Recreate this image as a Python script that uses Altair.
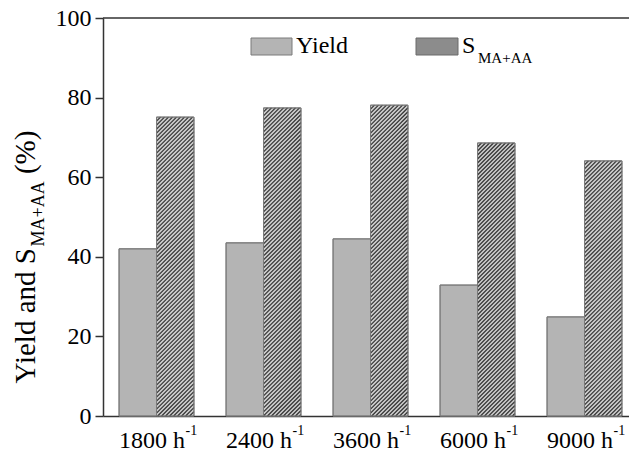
import altair as alt
import pandas as pd

# ---------------- data ----------------
categories = ["1800", "2400", "3600", "6000", "9000"]
yield_vals = [42.0, 43.5, 44.5, 32.9, 24.9]
s_vals = [75.1, 77.4, 78.1, 68.6, 64.1]
y_ticks = [0, 20, 40, 60, 80, 100]

# ---------------- layout ----------------
PLOT_W = 526          # visible plot width
X_RANGE = 535         # pixel range of the 5 groups (runs past the window edge)
H = 398
LEFT, TOP = 103, 18
px_per_x = X_RANGE / len(categories)
px_per_y = H / 100.0
FONT = "Liberation Serif"
AXIS_COLOR = "#333333"

bars = []
for i, (c, yv, sv) in enumerate(zip(categories, yield_vals, s_vals)):
    bars.append(dict(cat=c, series="Yield", x0=i + 0.15, x1=i + 0.5, v=yv))
    bars.append(dict(cat=c, series="S", x0=i + 0.5, x1=i + 0.85, v=sv))
bars_df = pd.DataFrame(bars)

# hatch lines for the S bars (derived from the bar values)
hatch = []
spacing = 4.0
w_px = 0.35 * px_per_x
for i, sv in enumerate(s_vals):
    h_px = sv * px_per_y
    k = -h_px
    while k < w_px:
        xs = max(0.0, k)
        xe = min(w_px, h_px + k)
        if xe > xs:
            hatch.append(dict(xa=i + 0.5 + xs / px_per_x, ya=(xs - k) / px_per_y,
                              xb=i + 0.5 + xe / px_per_x, yb=(xe - k) / px_per_y))
        k += spacing
hatch_df = pd.DataFrame(hatch)

label_df = pd.DataFrame(dict(pos=[i + 0.5 for i in range(len(categories))]))
one = pd.DataFrame(dict(a=[0]))

x_scale = alt.Scale(domain=[0, len(categories)], range=[0, X_RANGE], nice=False, zero=False)
y_scale = alt.Scale(domain=[0, 100], nice=False)

label_list = "[" + ",".join("'%s h'" % c for c in categories) + "]"

base = alt.Chart(bars_df)

bar_fill = base.mark_rect(stroke="#808080", strokeWidth=1).encode(
    x=alt.X("x0:Q", scale=x_scale, title=None,
            axis=alt.Axis(values=[i + 0.5 for i in range(len(categories))],
                          labelExpr=label_list + "[floor(datum.value)]",
                          tickSize=0, grid=False, domainColor=AXIS_COLOR, domainWidth=1.5,
                          labelFont=FONT, labelFontSize=24, labelColor="black",
                          labelPadding=12, labelOffset=-5)),
    x2="x1:Q",
    y=alt.Y("v:Q", scale=y_scale, title=None,
            axis=alt.Axis(values=y_ticks, tickSize=8, tickColor=AXIS_COLOR, tickWidth=1.5,
                          grid=False, domainColor=AXIS_COLOR, domainWidth=1.5,
                          labelFont=FONT, labelFontSize=24, labelColor="black",
                          labelPadding=4)),
    y2=alt.Y2(datum=0),
    color=alt.Color("series:N", scale=alt.Scale(domain=["Yield", "S"],
                                                range=["#b4b4b4", "#cfcfcf"]), legend=None),
)

hatch_layer = alt.Chart(hatch_df).mark_rule(color="#333333", strokeWidth=1.2).encode(
    x=alt.X("xa:Q", scale=x_scale, title=None),
    y=alt.Y("ya:Q", scale=y_scale, title=None),
    x2="xb:Q",
    y2="yb:Q",
)

bar_outline = base.mark_rect(fillOpacity=0, stroke="#7a7a7a", strokeWidth=1).encode(
    x=alt.X("x0:Q", scale=x_scale, title=None),
    x2="x1:Q",
    y=alt.Y("v:Q", scale=y_scale, title=None),
    y2=alt.Y2(datum=0),
)

top_line = alt.Chart(one).mark_rule(color=AXIS_COLOR, strokeWidth=1.5).encode(
    y=alt.Y(datum=100, scale=y_scale, title=None),
    x=alt.value(0),
    x2=alt.value(X_RANGE),
)

sup = alt.Chart(label_df).mark_text(font=FONT, fontSize=14, align="left",
                                    baseline="alphabetic", dx=29, color="black").encode(
    x=alt.X("pos:Q", scale=x_scale, title=None),
    y=alt.value(H + 19),
    text=alt.value("-1"),
)

def txt(s, x, y, size, angle=0, align="left"):
    kw = dict(font=FONT, fontSize=size, align=align, baseline="alphabetic", color="black")
    if angle:
        kw["angle"] = angle
    return alt.Chart(one).mark_text(**kw).encode(
        x=alt.value(x), y=alt.value(y), text=alt.value(s))

# legend
leg_yield_box = alt.Chart(one).mark_rect(fill="#b4b4b4", stroke="#7a7a7a", strokeWidth=1).encode(
    x=alt.value(148), x2=alt.value(189), y=alt.value(20), y2=alt.value(37))
leg_s_box = alt.Chart(one).mark_rect(fill="#8c8c8c", stroke="#6a6a6a", strokeWidth=1).encode(
    x=alt.value(313), x2=alt.value(355), y=alt.value(20), y2=alt.value(37))
leg_yield_txt = txt("Yield", 193, 35, 24)
leg_s_txt = txt("S", 359, 35, 24)
leg_s_sub = txt("MA+AA", 375, 45, 15)

# y title with subscript (rotated)
main_size, sub_size = 29, 18
len1 = 4.722 * main_size
len2 = 3.619 * sub_size
gap = 0.25 * main_size
len3 = 1.499 * main_size
total = len1 + len2 + gap + len3
start_y = (257 - TOP) + total / 2
ytitle1 = txt("Yield and S", -68, start_y, main_size, angle=270)
ytitle2 = txt("MA+AA", -59, start_y - len1, sub_size, angle=270)
ytitle3 = txt("(%)", -68, start_y - len1 - len2 - gap, main_size, angle=270)

chart = alt.layer(
    bar_fill, hatch_layer, bar_outline, top_line, sup,
    leg_yield_box, leg_s_box, leg_yield_txt, leg_s_txt, leg_s_sub,
    ytitle1, ytitle2, ytitle3,
).properties(
    width=PLOT_W, height=H,
    background="white",
    autosize=alt.AutoSizeParams(type="none"),
    padding={"left": LEFT, "top": TOP, "right": 0, "bottom": 456 - TOP - H},
).configure_view(stroke=None)

chart.save("out.html", embed_options={"renderer": "svg", "actions": False})
